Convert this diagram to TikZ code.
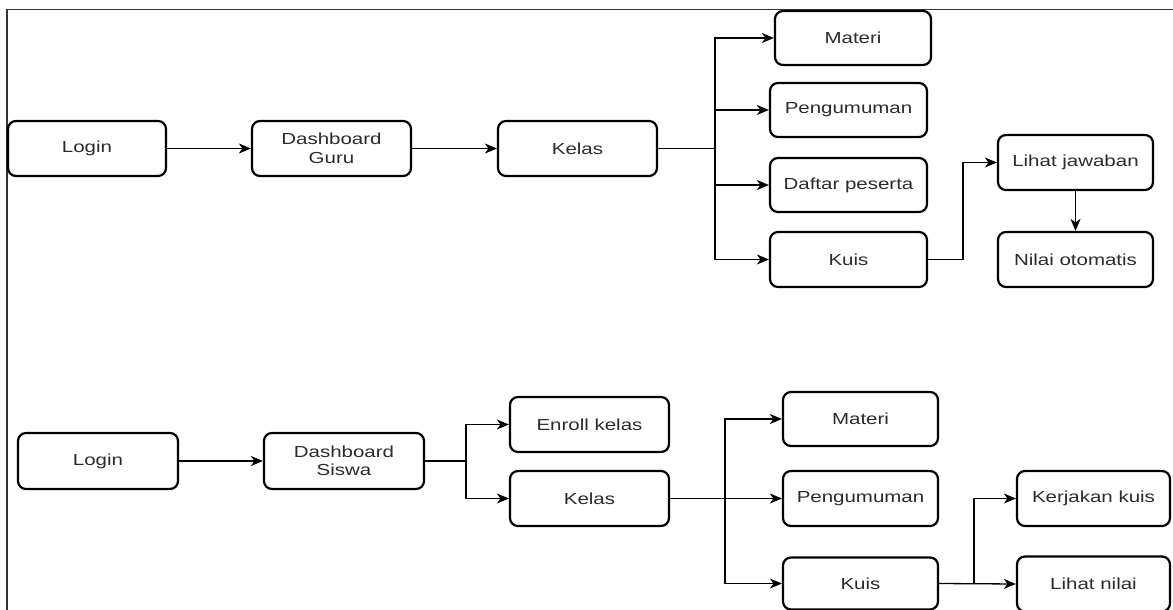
\documentclass[tikz,border=0pt]{standalone}
\usepackage{fontspec}
\setmainfont{Liberation Sans}[FakeStretch=1.28]
\usetikzlibrary{arrows.meta}
\definecolor{txt}{HTML}{2B2B2B}
\begin{document}
\begin{tikzpicture}[x=1pt,y=-1pt,
  box/.style={draw=black, line width=2.2pt, rounded corners=8pt, minimum width=157pt, minimum height=55pt,
    inner sep=0pt, align=center, text=txt, font=\fontsize{16}{18.5}\selectfont},
  arr/.style={draw=black, line width=1.3pt, -{Stealth[length=12pt,width=10pt,inset=3.5pt]}},
  ln/.style={draw=black, line width=1.3pt}]
\useasboundingbox (0,0) rectangle (1173,610);
\clip (0,0) rectangle (1173,610);
% frame
\draw[line width=1.5pt, draw=black!80] (7,610) -- (7,9.5) -- (1175,9.5);
% top row
\node[box, minimum width=158pt] (login1) at (87,148.5) {Login};
\node[box, minimum width=159pt] (dash1) at (331.5,148.5) {Dashboard\\Guru};
\node[box, minimum width=159pt] (kelas1) at (577.5,148.5) {Kelas};
\node[box, minimum width=156pt, minimum height=54pt] (materi1) at (853,38) {Materi};
\node[box, minimum height=54pt] (peng1) at (848.5,110) {Pengumuman};
\node[box, minimum height=54pt] (daftar1) at (848.5,185) {Daftar peserta};
\node[box] (kuis1) at (848.5,259.5) {Kuis};
\node[box, minimum width=155pt] (lihatj) at (1075.5,162.5) {Lihat jawaban};
\node[box, minimum width=155pt] (nilai) at (1075.5,259.5) {Nilai otomatis};
\coordinate (j1) at (715,148.5);
\coordinate (j2) at (963,259.5);
\draw[arr] (login1.east) -- (dash1.west);
\draw[arr] (dash1.east) -- (kelas1.west);
\draw[ln] (kelas1.east) -- (j1);
\draw[arr] (j1) |- (materi1.west);
\draw[arr] (j1) |- (peng1.west);
\draw[arr] (j1) |- (daftar1.west);
\draw[arr] (j1) |- (kuis1.west);
\draw[arr] (kuis1.east) -- (j2) |- (lihatj.west);
\draw[arr] (lihatj.south) -- (nilai.north);
% bottom row
\node[box, minimum width=160pt, minimum height=56pt] (login2) at (98,461) {Login};
\node[box, minimum width=160pt, minimum height=56pt] (dash2) at (344,461) {Dashboard\\Siswa};
\node[box, minimum width=159pt] (enroll) at (589.5,424.5) {Enroll kelas};
\node[box, minimum width=159pt] (kelas2) at (589.5,498.5) {Kelas};
\node[box, minimum width=155pt, minimum height=54pt] (materi2) at (860.5,419) {Materi};
\node[box, minimum width=155pt] (peng2) at (860.5,498.5) {Pengumuman};
\node[box, minimum width=155pt, minimum height=52pt] (kuis2) at (860.5,583.5) {Kuis};
\node[box, minimum width=153pt] (kerjakan) at (1093.5,498.5) {Kerjakan kuis};
\node[box, minimum width=153pt] (lihatn) at (1093.5,584) {Lihat nilai};
\coordinate (j3) at (466,461);
\coordinate (j4) at (725,498.5);
\coordinate (j5) at (974,583.5);
\draw[arr] (login2.east) -- (dash2.west);
\draw[ln] (dash2.east) -- (j3);
\draw[arr] (j3) |- (enroll.west);
\draw[arr] (j3) |- (kelas2.west);
\draw[arr] (kelas2.east) -- (peng2.west);
\draw[arr] (j4) |- (materi2.west);
\draw[arr] (j4) |- (kuis2.west);
\draw[arr] (kuis2.east) -- (lihatn.west);
\draw[arr] (j5) |- (kerjakan.west);
\end{tikzpicture}
\end{document}
